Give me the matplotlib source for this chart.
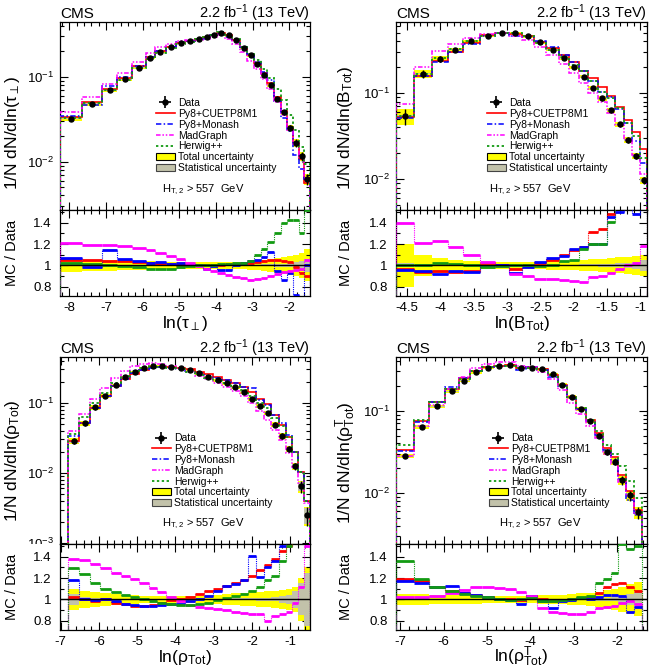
import numpy as np
import matplotlib
matplotlib.use("Agg")
import matplotlib.pyplot as plt
from matplotlib.ticker import MultipleLocator, LogLocator, NullFormatter, FixedLocator, FuncFormatter
from matplotlib.lines import Line2D
from matplotlib.patches import Patch
from matplotlib.legend_handler import HandlerTuple
from matplotlib.transforms import Bbox, TransformedBbox

plt.rcParams["font.family"] = ["Liberation Sans", "DejaVu Sans"]
plt.rcParams["mathtext.fontset"] = "custom"
plt.rcParams["mathtext.rm"] = "Liberation Sans"
plt.rcParams["mathtext.it"] = "Liberation Sans:italic"
plt.rcParams["mathtext.bf"] = "Liberation Sans:bold"
plt.rcParams["mathtext.default"] = "regular"
plt.rcParams["axes.unicode_minus"] = False
plt.rcParams["axes.linewidth"] = 0.9

# ---------------- data: ln(tau_perp) ----------------
TAU_EDGES = [-8.255, -7.645, -7.118, -6.691, -6.300, -5.918, -5.664, -5.373, -5.091, -4.836,
             -4.582, -4.345, -4.164, -3.964, -3.755, -3.555, -3.345, -3.145, -2.964, -2.782,
             -2.600, -2.418, -2.236, -2.055, -1.891, -1.736, -1.591, -1.436]
TAU_DATA = [0.032, 0.048, 0.069, 0.093, 0.128, 0.166, 0.197, 0.223, 0.249, 0.262, 0.276, 0.290,
            0.310, 0.330, 0.306, 0.270, 0.220, 0.178, 0.142, 0.106, 0.080, 0.055, 0.038, 0.025,
            0.0167, 0.0116, 0.0062]
TAU_CUET = [1.05, 1.05, 1.04, 1.04, 1.03, 1.02, 1.01, 1.01, 1.00, 1.00, 1.00, 1.00, 1.00, 1.00,
            1.01, 1.01, 1.02, 1.02, 1.03, 1.04, 1.05, 1.05, 1.04, 1.03, 0.98, 0.93, 0.90]
TAU_MON = [1.07, 0.98, 1.14, 1.06, 1.04, 1.02, 1.03, 1.01, 1.02, 1.00, 1.00, 0.97, 0.99, 0.96,
           0.96, 1.00, 1.02, 1.04, 1.05, 1.08, 1.13, 0.95, 0.86, 0.93, 0.72, 0.70, 1.00]
TAU_MG = [1.21, 1.19, 1.19, 1.18, 1.16, 1.14, 1.12, 1.09, 1.06, 1.02, 0.99, 0.97, 0.95, 0.93,
          0.91, 0.89, 0.88, 0.86, 0.87, 0.88, 0.90, 0.92, 0.94, 0.95, 0.96, 0.97, 1.05]
TAU_HW = [1.02, 1.01, 1.00, 0.99, 0.98, 0.97, 0.97, 0.97, 0.98, 0.99, 1.00, 1.00, 1.00, 1.01,
          1.01, 1.02, 1.02, 1.04, 1.10, 1.15, 1.22, 1.30, 1.40, 1.43, 1.43, 1.30, 1.52]
TAU_TOT = [0.06, 0.05, 0.05, 0.045, 0.04, 0.04, 0.035, 0.035, 0.03, 0.03, 0.03, 0.03, 0.03, 0.03,
           0.03, 0.03, 0.035, 0.04, 0.045, 0.05, 0.06, 0.07, 0.08, 0.09, 0.10, 0.12, 0.15]
TAU_STAT = [0.010, 0.008, 0.006, 0.005, 0.005, 0.004, 0.004, 0.004, 0.004, 0.004, 0.004, 0.004,
            0.004, 0.004, 0.004, 0.005, 0.005, 0.006, 0.007, 0.008, 0.010, 0.012, 0.015, 0.020,
            0.030, 0.040, 0.060]

# ---------------- data: ln(B_Tot) ----------------
B_EDGES = [-4.665, -4.39, -4.125, -3.89, -3.66, -3.41, -3.175, -2.975, -2.775, -2.59, -2.41,
           -2.225, -2.075, -1.925, -1.78, -1.64, -1.50, -1.375, -1.25, -1.125, -1.00, -0.90]
B_DATA = [0.054, 0.168, 0.25, 0.32, 0.40, 0.466, 0.50, 0.50, 0.455, 0.39, 0.32, 0.254, 0.20,
          0.156, 0.114, 0.087, 0.063, 0.0435, 0.0285, 0.0187, 0.0097]
B_CUET = [0.97, 0.94, 0.95, 0.94, 0.95, 1.02, 1.00, 0.97, 1.00, 1.02, 1.05, 1.10, 1.14, 1.17,
          1.31, 1.34, 1.48, 1.60, 1.70, 1.90, 2.30]
B_MON = [0.96, 0.95, 0.92, 0.95, 0.94, 0.99, 1.00, 0.93, 0.98, 1.03, 1.07, 1.09, 1.15, 1.17,
         1.20, 1.20, 1.45, 1.50, 1.60, 1.48, 1.60]
B_MG = [1.40, 1.21, 1.23, 1.17, 1.10, 1.03, 0.99, 0.92, 0.90, 0.87, 0.87, 0.86, 0.85, 0.84,
        0.89, 0.90, 0.93, 0.97, 1.00, 1.02, 1.18]
B_HW = [1.00, 1.00, 1.02, 1.01, 1.00, 0.98, 0.99, 1.00, 1.00, 0.99, 1.00, 1.04, 1.05, 1.15,
        1.20, 1.20, 1.41, 1.55, 1.60, 1.70, 1.80]
B_TOT = [0.20, 0.10, 0.07, 0.05, 0.04, 0.035, 0.03, 0.03, 0.03, 0.035, 0.04, 0.04, 0.045, 0.05,
         0.055, 0.06, 0.07, 0.075, 0.08, 0.09, 0.10]
B_STAT = [0.020, 0.010, 0.007, 0.005, 0.004, 0.004, 0.004, 0.004, 0.004, 0.005, 0.005, 0.006,
          0.007, 0.008, 0.010, 0.012, 0.015, 0.020, 0.025, 0.035, 0.050]

# ---------------- data: ln(rho_Tot) ----------------
RHO_EDGES = [-6.80, -6.513, -6.235, -5.974, -5.687, -5.435, -5.191, -4.948, -4.696, -4.470,
             -4.235, -3.991, -3.739, -3.496, -3.261, -3.017, -2.774, -2.539, -2.322, -2.104,
             -1.887, -1.687, -1.487, -1.296, -1.104, -0.948, -0.791, -0.635, -0.478]
RHO_DATA = [0.0283, 0.0507, 0.086, 0.125, 0.179, 0.23, 0.277, 0.316, 0.337, 0.337, 0.327, 0.316,
            0.293, 0.262, 0.235, 0.21, 0.189, 0.166, 0.144, 0.115, 0.0896, 0.072, 0.049, 0.0338,
            0.0218, 0.0124, 0.0065, 0.0025]
RHO_CUET = [1.02, 1.00, 0.98, 1.00, 0.97, 0.96, 0.94, 0.94, 0.95, 0.97, 0.99, 1.00, 1.02, 1.05,
            1.08, 1.10, 1.13, 1.15, 1.18, 1.22, 1.28, 1.32, 1.38, 1.45, 1.50, 1.60, 1.60, 1.60]
RHO_MON = [1.18, 1.00, 0.99, 1.00, 0.98, 0.96, 0.95, 0.94, 0.94, 0.95, 0.96, 0.96, 0.98, 1.00,
           1.03, 1.08, 1.13, 1.14, 1.18, 1.41, 1.21, 1.30, 1.36, 1.50, 1.60, 1.60, 1.60, 1.60]
RHO_MG = [1.38, 1.37, 1.33, 1.29, 1.25, 1.22, 1.19, 1.15, 1.11, 1.07, 1.02, 0.98, 0.95, 0.93,
          0.92, 0.91, 0.90, 0.88, 0.87, 0.86, 0.86, 0.80, 0.84, 0.86, 0.88, 0.97, 1.12, 1.50]
RHO_HW = [1.29, 1.24, 1.15, 1.10, 1.07, 1.04, 1.02, 1.00, 0.98, 0.97, 0.96, 0.95, 0.95, 0.96,
          0.97, 0.99, 1.01, 1.03, 1.05, 1.08, 1.12, 1.18, 1.22, 1.36, 1.50, 1.60, 1.60, 1.60]
RHO_TOT = [0.10, 0.08, 0.07, 0.06, 0.05, 0.045, 0.04, 0.035, 0.03, 0.03, 0.03, 0.03, 0.03, 0.035,
           0.04, 0.045, 0.05, 0.055, 0.06, 0.065, 0.07, 0.075, 0.08, 0.09, 0.10, 0.12, 0.20, 0.30]
RHO_STAT = [0.05, 0.02, 0.01, 0.008, 0.006, 0.005, 0.004, 0.004, 0.004, 0.004, 0.004, 0.004,
            0.004, 0.005, 0.005, 0.006, 0.007, 0.008, 0.009, 0.010, 0.012, 0.015, 0.020, 0.030,
            0.040, 0.080, 0.150, 0.250]

# ---------------- data: ln(rho^T_Tot) ----------------
RHOT_EDGES = [-7.100, -6.677, -6.346, -5.962, -5.654, -5.400, -5.115, -4.846, -4.592, -4.331,
              -4.092, -3.846, -3.600, -3.369, -3.154, -2.938, -2.723, -2.515, -2.323, -2.138,
              -1.977, -1.792, -1.615, -1.423]
RHOT_DATA = [0.028, 0.064, 0.113, 0.172, 0.233, 0.295, 0.33, 0.35, 0.355, 0.33, 0.33, 0.32,
             0.276, 0.206, 0.146, 0.105, 0.075, 0.050, 0.0318, 0.024, 0.0142, 0.0094, 0.0058]
RHOT_CUET = [1.19, 1.17, 1.12, 1.08, 1.06, 1.04, 1.02, 1.00, 1.00, 0.99, 1.03, 1.00, 0.98, 0.99,
             1.00, 1.01, 1.02, 1.06, 1.12, 1.14, 1.15, 1.12, 1.08]
RHOT_MON = [1.17, 1.15, 1.12, 1.13, 1.06, 1.04, 1.02, 1.00, 0.99, 0.96, 1.03, 0.98, 0.92, 0.98,
            0.99, 1.01, 1.00, 1.02, 1.04, 1.04, 1.03, 0.88, 0.93]
RHOT_MG = [1.02, 1.02, 1.03, 1.06, 1.09, 1.12, 1.12, 1.11, 1.10, 1.07, 1.03, 0.92, 0.88, 0.87,
           0.86, 0.86, 0.88, 0.92, 0.93, 0.94, 0.97, 0.98, 0.96]
RHOT_HW = [1.36, 1.19, 1.12, 1.08, 1.05, 1.03, 1.02, 1.00, 0.99, 1.00, 1.01, 0.98, 0.98, 0.99,
           1.00, 1.02, 1.03, 1.15, 1.19, 1.25, 1.52, 1.47, 1.50]
RHOT_TOT = [0.05, 0.05, 0.045, 0.04, 0.04, 0.04, 0.035, 0.035, 0.035, 0.035, 0.035, 0.04, 0.04,
            0.045, 0.05, 0.055, 0.06, 0.07, 0.09, 0.10, 0.12, 0.14, 0.16]
RHOT_STAT = [0.010, 0.008, 0.006, 0.005, 0.005, 0.004, 0.004, 0.004, 0.004, 0.004, 0.004, 0.005,
             0.005, 0.006, 0.007, 0.008, 0.010, 0.012, 0.015, 0.020, 0.030, 0.050, 0.070]

MODEL_NAMES = ["Py8+CUETP8M1", "Py8+Monash", "MadGraph", "Herwig++"]
MODEL_COLORS = ["#ff0000", "#0000ff", "#ff00ff", "#129a12"]
MODEL_LS = ["-", (0, (3.5, 1.5, 1, 1.5)), (0, (3, 1.2, 1, 1.2, 1, 1.2)), (0, (1.3, 1.4))]
MODEL_LW = [1.2, 1.1, 1.1, 1.3]
YELLOW = "#ffff00"
GRAY = "#c2c2aa"

XLABELS = [r"ln($\tau_{\perp}$)", r"ln(B$_{\rm Tot}$)", r"ln($\rho_{\rm Tot}$)",
           r"ln($\rho^{\rm T}_{\rm Tot}$)"]
YLABELS = [r"1/N dN/dln($\tau_{\perp}$)", r"1/N dN/dln(B$_{\rm Tot}$)",
           r"1/N dN/dln($\rho_{\rm Tot}$)", r"1/N dN/dln($\rho^{\rm T}_{\rm Tot}$)"]

fig = plt.figure(figsize=(6.54, 6.66), dpi=100)

W, H = 654.0, 666.0


def rect(x0, x1, ytop, ybot):
    return [x0 / W, 1 - ybot / H, (x1 - x0) / W, (ybot - ytop) / H]


def gfmt(v, pos):
    return "%g" % v


def draw_panel(idx, px, py, edges, data, ratios, tot, stat, xlim, ylim, xmaj, xmin_,
               leg_xy, ht_xy, ylab_x, ylab_y):
    edges = np.asarray(edges, float)
    data = np.asarray(data, float)
    tot = np.asarray(tot, float)
    stat = np.asarray(stat, float)
    x0, x1 = px
    ytop, ymid, ybot = py
    ax = fig.add_axes(rect(x0, x1, ytop, ymid))
    axr = fig.add_axes(rect(x0, x1, ymid, ybot))
    w = np.diff(edges)
    centers = 0.5 * (edges[1:] + edges[:-1])
    hmain = ymid - ytop

    # main panel
    ax.bar(edges[:-1], 2 * tot * data, bottom=data * (1 - tot), width=w, align="edge",
           color=YELLOW, lw=0, zorder=1)
    ax.bar(edges[:-1], 2 * stat * data, bottom=data * (1 - stat), width=w, align="edge",
           color=GRAY, lw=0, zorder=2)
    for r, c, ls, lw in zip(ratios, MODEL_COLORS, MODEL_LS, MODEL_LW):
        ax.stairs(data * np.asarray(r), edges, baseline=1e-7, color=c, ls=ls, lw=lw, zorder=3)
    ax.errorbar(centers, data, yerr=data * tot, fmt="o", ms=3.6, color="k", elinewidth=1.0,
                capsize=0, zorder=5)
    ax.set_yscale("log")
    ax.set_xlim(*xlim)
    ax.set_ylim(*ylim)
    ax.yaxis.set_major_locator(LogLocator(base=10, numticks=10))
    ax.yaxis.set_minor_locator(LogLocator(base=10, subs=np.arange(2, 10), numticks=20))
    ax.yaxis.set_minor_formatter(NullFormatter())
    ax.xaxis.set_major_locator(MultipleLocator(xmaj))
    ax.xaxis.set_minor_locator(MultipleLocator(xmin_))
    ax.tick_params(which="both", direction="in", top=True, right=True, labelbottom=False,
                   labelsize=9.5, pad=4)
    ax.tick_params(which="major", length=6, width=0.8)
    ax.tick_params(which="minor", length=3, width=0.8)

    # legend
    handles = [(Line2D([], [], marker="o", color="k", ms=3.6, ls="none"),
                Line2D([], [], marker="+", color="k", ms=9, mew=1.2, ls="none"))]
    for c, ls, lw in zip(MODEL_COLORS, MODEL_LS, MODEL_LW):
        handles.append(Line2D([], [], color=c, ls=ls, lw=lw))
    handles.append(Patch(facecolor=YELLOW, edgecolor="k", lw=0.8))
    handles.append(Patch(facecolor=GRAY, edgecolor="#444444", lw=0.8))
    labels = ["Data"] + MODEL_NAMES + ["Total uncertainty", "Statistical uncertainty"]
    ax.legend(handles, labels, handler_map={tuple: HandlerTuple(ndivide=1)},
              loc="upper left", bbox_to_anchor=leg_xy, frameon=False, fontsize=7.5,
              handlelength=1.8, handletextpad=0.3, labelspacing=0.08, borderpad=0,
              borderaxespad=0)
    ax.text(ht_xy[0], ht_xy[1], r"H$_{\rm T,2}$ > 557  GeV", transform=ax.transAxes,
            fontsize=8, ha="left", va="center")
    yb = 1 + 4.0 / hmain
    ax.text(0.0, yb, "CMS", transform=ax.transAxes, fontsize=11, ha="left", va="baseline")
    ax.text(1.0, yb, r"2.2 fb$^{-1}$ (13 TeV)", transform=ax.transAxes, fontsize=10.5,
            ha="right", va="baseline")
    ax.text(ylab_x, ylab_y, YLABELS[idx], transform=ax.transAxes, rotation=90, fontsize=12.5,
            ha="center", va="center")

    # ratio panel
    axr.stairs(1 + tot, edges, baseline=1 - tot, fill=True, color=YELLOW, lw=0, zorder=1)
    axr.stairs(1 + stat, edges, baseline=1 - stat, fill=True, color=GRAY, lw=0, zorder=2)
    for k, (r, c) in enumerate(zip(ratios, MODEL_COLORS)):
        r = np.asarray(r, float)
        axr.vlines(edges[1:-1], r[:-1], r[1:], colors=c, lw=0.8, linestyles=(0, (1, 1)), zorder=3)
        axr.vlines([edges[0], edges[-1]], [0, 0], [r[0], r[-1]], colors=c, lw=0.8,
                   linestyles=(0, (1, 1)), zorder=3)
        axr.hlines(r, edges[:-1], edges[1:], colors=c, lw=2.0, zorder=4 + k * 0.1)
    axr.axhline(1.0, color="k", lw=1.0, zorder=5)
    axr.set_xlim(*xlim)
    axr.set_ylim(0.712, 1.52)
    axr.yaxis.set_major_locator(FixedLocator([0.8, 1.0, 1.2, 1.4]))
    axr.yaxis.set_minor_locator(MultipleLocator(0.1))
    axr.yaxis.set_major_formatter(FuncFormatter(gfmt))
    axr.xaxis.set_major_locator(MultipleLocator(xmaj))
    axr.xaxis.set_minor_locator(MultipleLocator(xmin_))
    axr.xaxis.set_major_formatter(FuncFormatter(gfmt))
    axr.tick_params(which="both", direction="in", top=True, right=True, labelsize=9.5)
    axr.tick_params(axis="y", pad=6)
    axr.tick_params(axis="x", pad=4)
    axr.tick_params(which="major", length=6, width=0.8)
    axr.tick_params(which="minor", length=3, width=0.8)
    axr.text(ylab_x, 0.5, "MC / Data", transform=axr.transAxes, rotation=90, fontsize=10.5,
             ha="center", va="center")
    axr.text(0.5, -0.37, XLABELS[idx], transform=axr.transAxes, fontsize=12.5, ha="center",
             va="baseline")
    return ax, axr


TOP = (22, 210, 296)
BOT = (357, 544, 630)
LEFT = (60, 310)
RIGHT = (396, 647)

draw_panel(0, LEFT, TOP, TAU_EDGES, TAU_DATA, [TAU_CUET, TAU_MON, TAU_MG, TAU_HW], TAU_TOT,
           TAU_STAT, (-8.255, -1.436), (0.0027, 0.44), 1, 0.2, (0.384, 0.595), (0.41, 0.106),
           -0.19, 0.41)
draw_panel(1, RIGHT, TOP, B_EDGES, B_DATA, [B_CUET, B_MON, B_MG, B_HW], B_TOT, B_STAT,
           (-4.665, -0.90), (0.0044, 0.67), 0.5, 0.1, (0.363, 0.595), (0.37, 0.106),
           -0.20, 0.436)
ax3, _ = draw_panel(2, LEFT, BOT, RHO_EDGES, RHO_DATA, [RHO_CUET, RHO_MON, RHO_MG, RHO_HW],
                    RHO_TOT, RHO_STAT, (-7.02, -0.478), (0.00097, 0.45), 1, 0.2, (0.368, 0.592),
                    (0.41, 0.11), -0.19, 0.444)
draw_panel(3, RIGHT, BOT, RHOT_EDGES, RHOT_DATA, [RHOT_CUET, RHOT_MON, RHOT_MG, RHOT_HW],
           RHOT_TOT, RHOT_STAT, (-7.1, -1.308), (0.0024, 0.45), 1, 0.2, (0.37, 0.592),
           (0.41, 0.11), -0.20, 0.434)

# clip the main-panel tick labels of panel 3 at the ratio-pad boundary (ROOT pad clipping)
fig.canvas.draw()
clip = TransformedBbox(Bbox.from_extents(0, 1 - 544 / H, 1, 1), fig.transFigure)
for lab in ax3.get_yticklabels():
    lab.set_clip_on(True)
    lab.set_clip_box(clip)

fig.savefig("out.png", dpi=100)
